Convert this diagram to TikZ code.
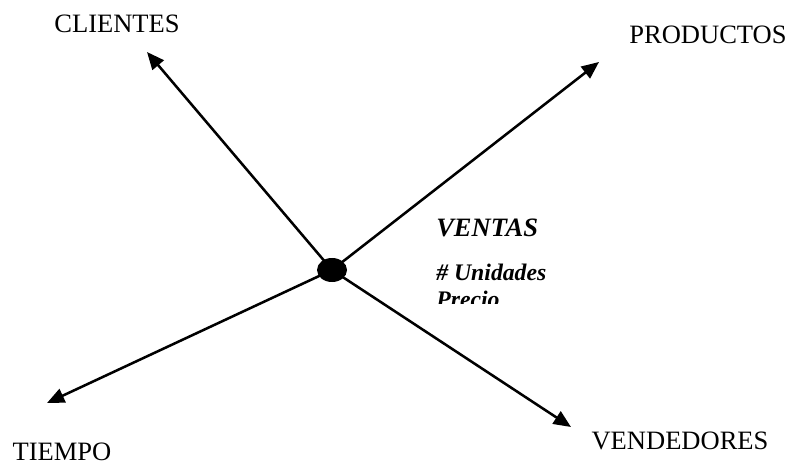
\documentclass[tikz,border=0pt]{standalone}
\usepackage{fontspec}
\setmainfont{Liberation Serif}
\usetikzlibrary{arrows.meta,shapes.geometric}
\begin{document}
\begin{tikzpicture}[x=0.75pt,y=-0.75pt,
  axis/.style={line width=1.9pt,-{Triangle[length=13pt,width=11pt]}},
  dim/.style={font=\fontsize{19.9}{22}\selectfont,inner sep=0pt,anchor=center},
  fact/.style={font=\fontsize{19.9}{22}\selectfont\bfseries\itshape,inner sep=0pt,anchor=west},
  measure/.style={font=\fontsize{17.8}{19}\selectfont\bfseries\itshape,inner sep=0pt,anchor=west}]
\useasboundingbox (0,0) rectangle (791,466);
\node[ellipse,fill=black,minimum width=22.5pt,minimum height=18pt,inner sep=0pt] (c) at (332,270) {};
\coordinate (tc) at (147,52);
\coordinate (tp) at (599,62);
\coordinate (tt) at (47,403);
\coordinate (tv) at (571,427);
\draw[axis] (c.center) -- (tc);
\draw[axis] (c.center) -- (tp);
\draw[axis] (c.center) -- (tt);
\draw[axis] (c.center) -- (tv);
\node[dim] (cli) at (117,24) {CLIENTES};
\node[dim] (pro) at (708,35) {PRODUCTOS};
\node[dim] (tie) at (62,452) {TIEMPO};
\node[dim] (ven) at (680,441) {VENDEDORES};
\node[fact] (fa) at (436,228) {VENTAS};
\begin{scope}
\clip (420,255) rectangle (600,303);
\node[measure] (m1) at (436,272) {\# Unidades};
\node[measure] (m2) at (436,299) {Precio};
\end{scope}
\end{tikzpicture}
\end{document}
